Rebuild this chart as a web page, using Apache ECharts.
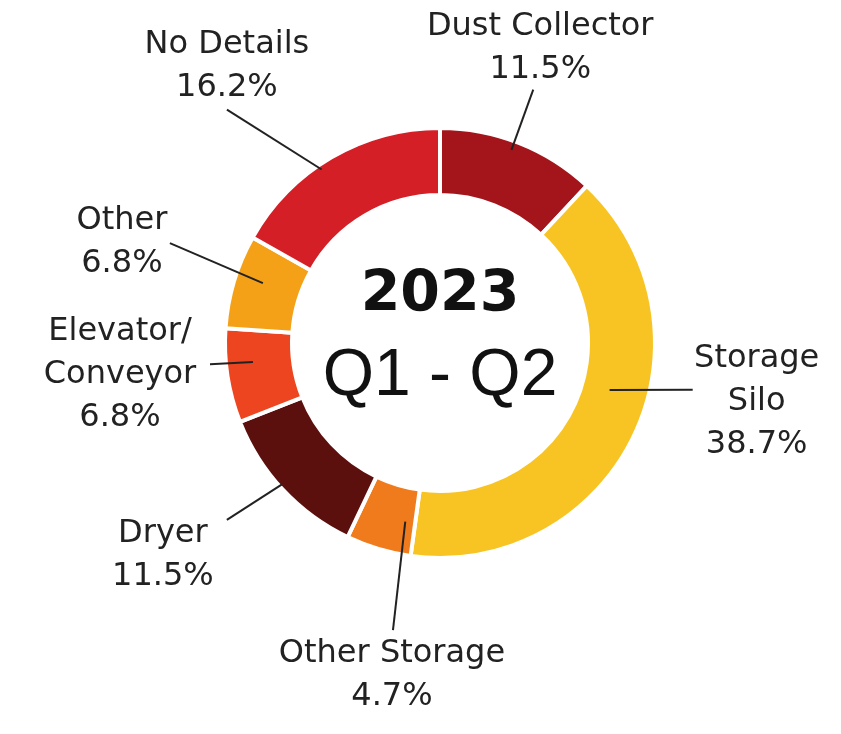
<!DOCTYPE html>
<html>
<head>
<meta charset="utf-8">
<script src="https://cdn.jsdelivr.net/npm/echarts@6/dist/echarts.min.js"></script>
<style>
  html, body { margin: 0; padding: 0; background: #ffffff; }
  #chart { width: 841px; height: 734px; }
</style>
</head>
<body>
<div id="chart"></div>
<script>
// Incident share by equipment type, 2023 Q1 - Q2
const categories = ['Dust Collector', 'Storage Silo', 'Other Storage', 'Dryer', 'Elevator/Conveyor', 'Other', 'No Details'];
const shares = [11.5, 38.7, 4.7, 11.5, 6.8, 6.8, 16.2];
const labelNames = ['Dust Collector', 'Storage\nSilo', 'Other Storage', 'Dryer', 'Elevator/\nConveyor', 'Other', 'No Details'];
const sliceColors = ['#a3151b', '#f8c423', '#f07b1c', '#5c100d', '#ec4520', '#f4a118', '#d41f26'];
const centerTitle = '2023';
const centerSubtitle = 'Q1 - Q2';

// Ring geometry (px)
const CENTER = [440, 343];
const RADIUS = [148, 215];

// Leader lines: start angle/radius, end angle/radius (degrees clockwise from 12 o'clock),
// and the label block's offset from the line end.
const leaders = [
  { a0: 20.3,  r0: 206, a1: 20.2,  r1: 270, dx: 7,   dy: -41 },
  { a0: 105.5, r0: 176, a1: 100.5, r1: 257, dx: 64,  dy: 12 },
  { a0: 191,   r0: 182, a1: 189.3, r1: 291, dx: -1,  dy: 45 },
  { a0: 228.2, r0: 212, a1: 230.3, r1: 277, dx: -64, dy: 35 },
  { a0: 264.2, r0: 188, a1: 264.7, r1: 231, dx: -90, dy: 10 },
  { a0: 288.7, r0: 187, a1: 290.3, r1: 288, dx: -48, dy: -1 },
  { a0: 325.7, r0: 210, a1: 317.6, r1: 316, dx: 0,   dy: -43 }
];

function polar(angleDeg, r) {
  const t = angleDeg * Math.PI / 180;
  return [CENTER[0] + r * Math.sin(t), CENTER[1] - r * Math.cos(t)];
}

// Leader lines drawn above the ring so they run into each slice
const leaderLines = leaders.map((l) => ({
  type: 'polyline',
  silent: true,
  z: 100,
  shape: { points: [polar(l.a0, l.r0), polar(l.a1, l.r1)] },
  style: { stroke: '#222222', lineWidth: 2, fill: null }
}));

const chart = echarts.init(document.getElementById('chart'), null, { renderer: 'canvas' });

chart.setOption({
  backgroundColor: '#ffffff',
  animation: false,
  graphic: [
    {
      type: 'text',
      x: CENTER[0],
      y: CENTER[1] - 47,
      silent: true,
      z: 100,
      style: {
        text: centerTitle,
        fill: '#111111',
        font: 'bold 57px "DejaVu Sans", sans-serif',
        align: 'center',
        verticalAlign: 'middle'
      }
    },
    {
      type: 'text',
      x: CENTER[0],
      y: CENTER[1] + 34,
      silent: true,
      z: 100,
      style: {
        text: centerSubtitle,
        fill: '#111111',
        font: '66px "Liberation Sans", Arial, sans-serif',
        align: 'center',
        verticalAlign: 'middle'
      }
    }
  ].concat(leaderLines),
  series: [
    {
      type: 'pie',
      center: CENTER,
      radius: RADIUS,
      startAngle: 90,
      clockwise: true,
      avoidLabelOverlap: false,
      silent: true,
      itemStyle: {
        borderColor: '#ffffff',
        borderWidth: 4
      },
      label: {
        show: true,
        position: 'outside',
        formatter: (p) => labelNames[p.dataIndex] + '\n' + p.value + '%',
        fontFamily: '"DejaVu Sans", sans-serif',
        fontSize: 32,
        lineHeight: 43,
        color: '#222222'
      },
      labelLine: { show: false },
      labelLayout: function (params) {
        const l = leaders[params.dataIndex];
        const end = polar(l.a1, l.r1);
        return {
          x: end[0] + l.dx,
          y: end[1] + l.dy,
          align: 'center',
          verticalAlign: 'middle'
        };
      },
      data: categories.map((name, i) => ({
        name: name,
        value: shares[i],
        itemStyle: { color: sliceColors[i] }
      }))
    }
  ]
});
</script>
</body>
</html>
